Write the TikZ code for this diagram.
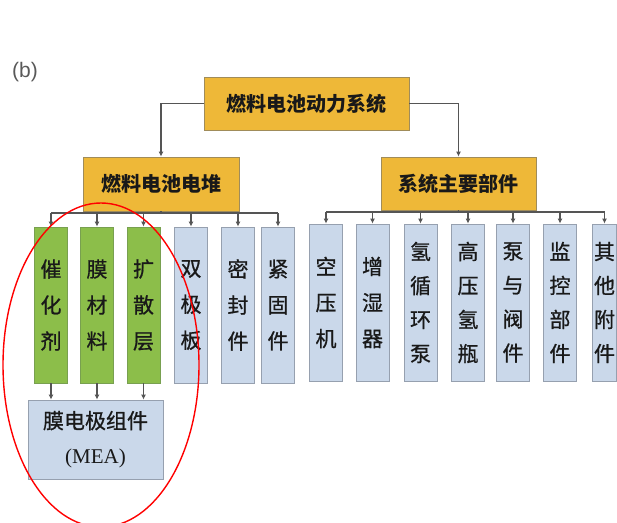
\documentclass[tikz,border=0pt]{standalone}
\usepackage{fontspec}
\setmainfont{Liberation Serif}
\newfontfamily\cjk{Noto Sans CJK SC}
\newfontfamily\cjkm[FakeBold=0.8]{Noto Sans CJK SC}
\newfontfamily\labfont{Liberation Sans}
\usetikzlibrary{arrows.meta}
\definecolor{orbox}{RGB}{238,184,56}
\definecolor{orline}{RGB}{160,140,90}
\definecolor{grbox}{RGB}{140,190,74}
\definecolor{grline}{RGB}{120,160,80}
\definecolor{blbox}{RGB}{202,216,234}
\definecolor{blline}{RGB}{150,160,175}
\definecolor{conn}{RGB}{85,85,85}
\definecolor{txt}{RGB}{25,25,25}
\tikzset{
  headbox/.style={draw=orline, fill=orbox, line width=0.8pt, inner sep=0pt, text=txt,
    font=\cjk\bfseries\fontsize{20}{24}\selectfont},
  tallbox/.style={draw=blline, fill=blbox, line width=0.8pt, inner sep=0pt, text=txt,
    minimum width=33pt, align=center, font=\cjkm\fontsize{21}{36}\selectfont},
  greenbox/.style={tallbox, draw=grline, fill=grbox},
  fourch/.style={font=\cjkm\fontsize{21}{34}\selectfont},
  conn/.style={draw=conn, line width=1.1pt},
  arr/.style={conn, -{Latex[length=5pt,width=5pt]}},
}
\begin{document}
\begin{tikzpicture}[x=1pt,y=-1pt]
\clip (0,0) rectangle (617,522);
\fill[white] (0,0) rectangle (617,522);

\node[text=black!65, font=\labfont\fontsize{21}{24}\selectfont] (lab) at (25,72) {(b)};

% headers
\node[headbox, minimum width=205pt, minimum height=53pt] (top) at (306.5,103.5) {燃料电池动力系统};
\node[headbox, minimum width=156pt, minimum height=54pt] (stack) at (161,184) {燃料电池电堆};
\node[headbox, minimum width=155pt, minimum height=53pt] (sys) at (458.5,183.5) {系统主要部件};

\draw[arr] (top.west) -| (stack.north);
\draw[arr] (top.east) -| (sys.north);

% stack children
\node[greenbox, minimum height=156pt] (c1) at (51,305) {催\\化\\剂};
\node[greenbox, minimum height=156pt] (c2) at (97,305) {膜\\材\\料};
\node[greenbox, minimum height=156pt] (c3) at (143.5,305) {扩\\散\\层};
\node[tallbox, minimum height=156pt] (c4) at (191,305) {双\\极\\板};
\node[tallbox, minimum height=156pt] (c5) at (238,305) {密\\封\\件};
\node[tallbox, minimum height=156pt] (c6) at (278,305) {紧\\固\\件};

\coordinate (lb) at (50,213);
\draw[conn] (stack.south) -- (stack.south |- lb);
\draw[conn] (c1.north |- lb) -- (c6.north |- lb);
\foreach \c in {c1,c2,c3,c4,c5,c6}{
  \draw[arr] (\c.north |- lb) -- (\c.north);
}

% MEA
\node[tallbox, minimum width=135pt, minimum height=79pt, font=\fontsize{21}{35}\selectfont] (mea) at (95.5,439.5) {{\cjkm 膜电极组件}\\(MEA)};
\foreach \c in {c1,c2,c3}{
  \draw[arr] (\c.south) -- (\c.south |- mea.north);
}

% system children
\node[tallbox, minimum height=157pt] (r1) at (326,302.5) {空\\压\\机};
\node[tallbox, minimum height=157pt] (r2) at (372.5,302.5) {增\\湿\\器};
\node[tallbox, fourch, minimum height=157pt] (r3) at (420.5,302.5) {氢\\循\\环\\泵};
\node[tallbox, fourch, minimum height=157pt] (r4) at (468,302.5) {高\\压\\氢\\瓶};
\node[tallbox, fourch, minimum height=157pt] (r5) at (513,302.5) {泵\\与\\阀\\件};
\node[tallbox, fourch, minimum height=157pt] (r6) at (560,302.5) {监\\控\\部\\件};
\node[tallbox, fourch, minimum width=24pt, minimum height=157pt] (r7) at (604.5,302.5) {其\\他\\附\\件};

\coordinate (rb) at (326,212);
\draw[conn] (sys.south) -- (sys.south |- rb);
\draw[conn] (r1.north |- rb) -- (r7.north |- rb);
\foreach \c in {r1,r2,r3,r4,r5,r6,r7}{
  \draw[arr] (\c.north |- rb) -- (\c.north);
}

% red ellipse
\draw[red, line width=1.4pt] (101,365) ellipse [x radius=98, y radius=162];
\end{tikzpicture}
\end{document}
